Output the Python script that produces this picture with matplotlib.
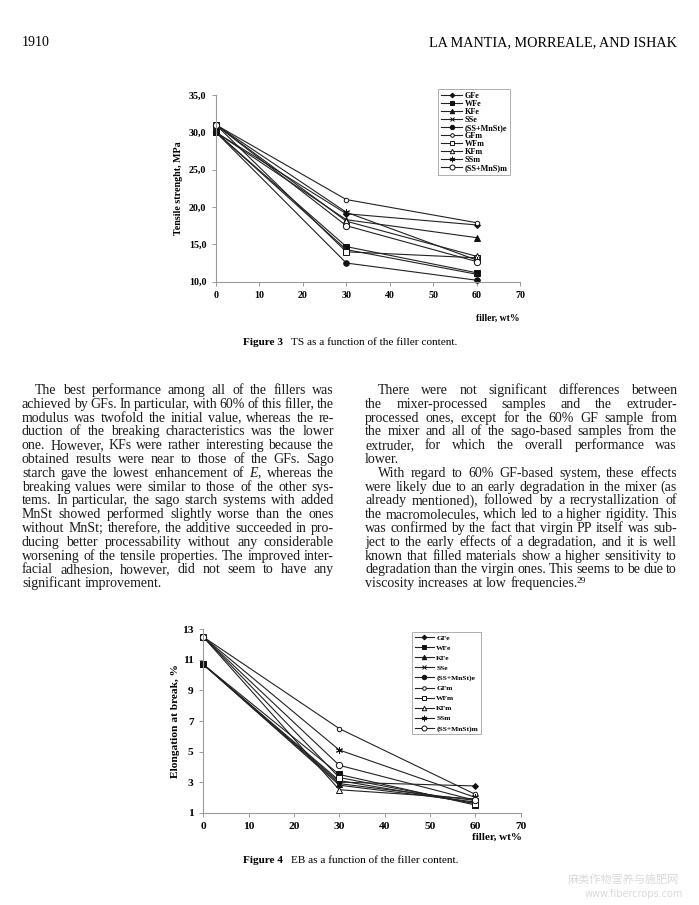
import numpy as np
import matplotlib
matplotlib.use("Agg")
import matplotlib.pyplot as plt

W, H = 699, 905

# ---- data ----
filler = [0, 30, 60]
names = ["GFe", "WFe", "KFe", "SSe", "(SS+MnSt)e",
         "GFm", "WFm", "KFm", "SSm", "(SS+MnSt)m"]
names_ts = ["GFe", "WFe", "KFe", "SSe", "(SS+MnSt)e",
            "GFm", "WFm", "KFm", "SSm", "(SS+MnS)m"]

ts_GFe = [30.0, 19.1, 17.6]
ts_WFe = [30.0, 14.7, 11.2]
ts_KFe = [30.0, 18.3, 15.9]
ts_SSe = [30.0, 14.3, 11.0]
ts_SSMnSte = [30.0, 12.5, 10.2]
ts_GFm = [31.0, 21.0, 17.9]
ts_WFm = [31.0, 14.0, 13.2]
ts_KFm = [31.0, 18.1, 13.4]
ts_SSm = [31.0, 19.3, 12.9]
ts_SSMnStm = [31.0, 17.5, 12.7]

eb_GFe = [10.7, 3.0, 2.75]
eb_WFe = [10.7, 3.5, 1.5]
eb_KFe = [10.7, 2.9, 1.8]
eb_SSe = [10.7, 2.8, 1.7]
eb_SSMnSte = [10.7, 3.1, 1.6]
eb_GFm = [12.5, 6.5, 2.2]
eb_WFm = [12.5, 3.3, 1.6]
eb_KFm = [12.5, 2.5, 1.9]
eb_SSm = [12.5, 5.1, 2.0]
eb_SSMnStm = [12.5, 4.1, 1.8]

ts_all = [ts_GFe, ts_WFe, ts_KFe, ts_SSe, ts_SSMnSte,
          ts_GFm, ts_WFm, ts_KFm, ts_SSm, ts_SSMnStm]
eb_all = [eb_GFe, eb_WFe, eb_KFe, eb_SSe, eb_SSMnSte,
          eb_GFm, eb_WFm, eb_KFm, eb_SSm, eb_SSMnStm]

# marker, size, filled
styles = [("D", 3.0, True), ("s", 3.8, True), ("^", 4.0, True), ("x", 3.5, True),
          ("o", 4.0, True), ("o", 3.2, False), ("s", 4.0, False), ("^", 4.0, False),
          ((6, 2, 0), 5.0, True), ("o", 4.5, False)]

left_text = [
    "The best performance among all of the fillers was",
    "achieved by GFs. In particular, with 60% of this filler, the",
    "modulus was twofold the initial value, whereas the re-",
    "duction of the breaking characteristics was the lower",
    "one. However, KFs were rather interesting because the",
    "obtained results were near to those of the GFs. Sago",
    "starch gave the lowest enhancement of $E$, whereas the",
    "breaking values were similar to those of the other sys-",
    "tems. In particular, the sago starch systems with added",
    "MnSt showed performed slightly worse than the ones",
    "without MnSt; therefore, the additive succeeded in pro-",
    "ducing better processability without any considerable",
    "worsening of the tensile properties. The improved inter-",
    "facial adhesion, however, did not seem to have any",
    "significant improvement.",
]
right_text = [
    "There were not significant differences between",
    "the mixer-processed samples and the extruder-",
    "processed ones, except for the 60% GF sample from",
    "the mixer and all of the sago-based samples from the",
    "extruder, for which the overall performance was",
    "lower.",
    "With regard to 60% GF-based system, these effects",
    "were likely due to an early degradation in the mixer (as",
    "already mentioned), followed by a recrystallization of",
    "the macromolecules, which led to a higher rigidity. This",
    "was confirmed by the fact that virgin PP itself was sub-",
    "ject to the early effects of a degradation, and it is well",
    "known that filled materials show a higher sensitivity to",
    "degradation than the virgin ones. This seems to be due to",
    "viscosity increases at low frequencies.",
]
left_first = [0]
left_last = [14]
right_first = [0, 6]
right_last = [5, 14]
ref_mark = "29"

plt.rcParams["font.family"] = ["Liberation Serif", "DejaVu Serif"]
plt.rcParams["mathtext.fontset"] = "custom"
plt.rcParams["mathtext.rm"] = "Liberation Serif"
plt.rcParams["mathtext.it"] = "Liberation Serif:italic"

fig = plt.figure(figsize=(W / 100, H / 100), dpi=100)


def fx(px):
    return px / W


def fy(py):
    return 1 - py / H


def make_chart(rect, data, labels, ylim, yticks, yfmt, ylabel, leg_box, leg_space,
               leg_fs, tick_fs, xlab_pos, ylab_x):
    l, r, t, b = rect
    ax = fig.add_axes([fx(l), fy(b), (r - l) / W, (b - t) / H])
    for vals, (m, ms, filled), lab in zip(data, styles, labels):
        ax.plot(filler, vals, color="#222222", lw=0.8, marker=m, ms=ms,
                mfc="#111111" if filled else "white", mec="#111111", mew=0.7,
                label=lab, clip_on=False)
    ax.set_xlim(0, 70)
    ax.set_ylim(*ylim)
    ax.set_xticks(range(0, 71, 10))
    ax.set_yticks(yticks)
    ax.set_yticklabels([yfmt(v) for v in yticks])
    for s in ["top", "right"]:
        ax.spines[s].set_visible(False)
    for s in ["left", "bottom"]:
        ax.spines[s].set_color("#9a9a9a")
        ax.spines[s].set_linewidth(0.8)
    ax.tick_params(length=3, width=0.7, color="#9a9a9a", labelsize=tick_fs, pad=4)
    for lb in ax.get_xticklabels() + ax.get_yticklabels():
        lb.set_fontweight("bold")
    fig.text(fx(ylab_x), fy((t + b) / 2), ylabel, rotation=90, ha="center", va="center",
             fontsize=tick_fs, fontweight="bold")
    fig.text(fx(xlab_pos[0]), fy(xlab_pos[1]), "filler, wt%", ha="center", va="center",
             fontsize=tick_fs - 0.3, fontweight="bold")
    leg = ax.legend(loc="upper left", bbox_to_anchor=(fx(leg_box[0]), fy(leg_box[1])),
                    bbox_transform=fig.transFigure, borderaxespad=0, fancybox=False,
                    frameon=True, prop={"size": leg_fs, "weight": "bold"},
                    labelspacing=leg_space, handlelength=2.6, handletextpad=0.3,
                    borderpad=0.35, markerscale=0.8)
    leg.get_frame().set_edgecolor("#9a9a9a")
    leg.get_frame().set_linewidth(0.7)
    return ax


make_chart((216, 520, 95, 281.7), ts_all, names_ts, (10, 35), [10, 15, 20, 25, 30, 35],
           lambda v: f"{v:.1f}".replace(".", ","), "Tensile strenght, MPa",
           (438, 89), 0.0, 5.9, 7.2, (498, 318), 179)
make_chart((203.3, 520.7, 629.3, 812.7), eb_all, names, (1, 13), [1, 3, 5, 7, 9, 11, 13],
           lambda v: f"{v:d}", "Elongation at break, %",
           (412, 632), 0.5, 5.4, 8.2, (497, 837), 176)

# header and captions
fig.text(fx(22), fy(46), "1910", fontsize=10, va="baseline")
fig.text(fx(677), fy(46), "LA MANTIA, MORREALE, AND ISHAK", fontsize=10.2, va="baseline",
         ha="right")
fig.text(fx(243), fy(345), "Figure 3", fontsize=8.1, fontweight="bold", va="baseline")
fig.text(fx(291), fy(345), "TS as a function of the filler content.", fontsize=8.1,
         va="baseline")
fig.text(fx(243), fy(863), "Figure 4", fontsize=8.1, fontweight="bold", va="baseline")
fig.text(fx(291), fy(863), "EB as a function of the filler content.", fontsize=8.1,
         va="baseline")

# justified body text
renderer = fig.canvas.get_renderer()


def word_w(w, fs):
    t = fig.text(0, 0, w, fontsize=fs)
    ww = t.get_window_extent(renderer).width
    t.remove()
    return ww


def fits(fs):
    sp = word_w("a a", fs) - 2 * word_w("a", fs)
    for lines, firsts, lasts in [(left_text, left_first, left_last),
                                 (right_text, right_first, right_last)]:
        for i, line in enumerate(lines):
            if i in lasts:
                continue
            words = line.split(" ")
            avail = 312 - (13 if i in firsts else 0)
            if sum(word_w(w, fs) for w in words) + 0.7 * sp * (len(words) - 1) > avail:
                return False
    return True


FS = 11.0
while FS > 7 and not fits(FS):
    FS -= 0.1
sp_nat = word_w("a a", FS) - 2 * word_w("a", FS)


def column(lines, x0, x1, y0, dy, firsts, lasts, indent=13):
    end = None
    for i, line in enumerate(lines):
        y = y0 + i * dy
        start = x0 + (indent if i in firsts else 0)
        words = line.split(" ")
        widths = [word_w(w, FS) for w in words]
        if i in lasts or len(words) < 2:
            gap = sp_nat
        else:
            gap = (x1 - start - sum(widths)) / (len(words) - 1)
        x = start
        for w, ww in zip(words, widths):
            fig.text(fx(x), fy(y), w, fontsize=FS, va="baseline", color="#1a1a1a")
            x += ww + gap
        end = (x - gap, y)
    return end


column(left_text, 22, 334, 394, 13.8, left_first, left_last)
xe, ye = column(right_text, 365, 677, 394, 13.8, right_first, right_last)
fig.text(fx(xe - 1), fy(ye - 4.5), ref_mark, fontsize=FS * 0.68, va="baseline",
         color="#1a1a1a")

# watermark of the scan
fig.text(fx(568), fy(883), "麻类作物营养与施肥网", fontsize=8, color="#dadada",
         family=["Noto Sans CJK SC", "DejaVu Sans"], va="baseline")
fig.text(fx(585), fy(897), "www.fibercrops.com", fontsize=7, color="#dadada",
         family=["DejaVu Sans"], va="baseline")

fig.savefig("out.png", dpi=100)
